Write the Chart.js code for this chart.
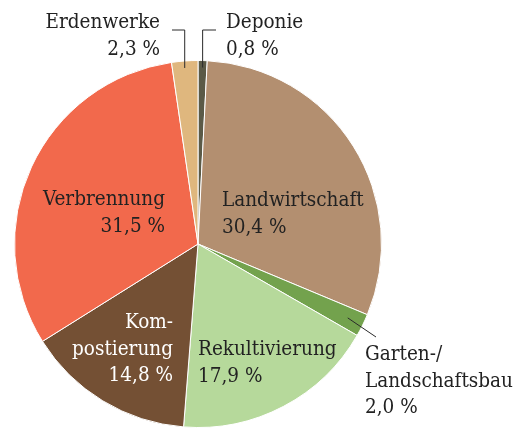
<!DOCTYPE html>
<html>
<head>
<meta charset="utf-8">
<script src="https://cdn.jsdelivr.net/npm/chart.js@4.4.0/dist/chart.umd.min.js"></script>
<style>
  html, body { margin: 0; padding: 0; background: #fff; overflow: hidden; }
  #wrap { width: 527px; height: 428px; }
</style>
</head>
<body>
<div id="wrap"><canvas id="myChart" width="527" height="428"></canvas></div>
<script>
// data, clockwise from 12 o'clock
const categories = ['Deponie', 'Landwirtschaft', 'Garten-/Landschaftsbau', 'Rekultivierung', 'Kompostierung', 'Verbrennung', 'Erdenwerke'];
const shares = [0.8, 30.4, 2.0, 17.9, 14.8, 31.5, 2.3];
const labelLines = [
    ['Deponie', '0,8 %'],
    ['Landwirtschaft', '30,4 %'],
    ['Garten-/', 'Landschaftsbau', '2,0 %'],
    ['Rekultivierung', '17,9 %'],
    ['Kom-', 'postierung', '14,8 %'],
    ['Verbrennung', '31,5 %'],
    ['Erdenwerke', '2,3 %']
];

const colors = ['#5b5a47', '#b38f70', '#73a24d', '#b6d99b', '#745034', '#f2694c', '#dfb77e'];
const textColors = ['#222', '#222', '#222', '#222', '#fff', '#222', '#222'];

// label placement relative to pie center (px), align, leader type
const labelPos = [
    { dx: 28, dy: -216, align: 'left', leader: 'top' },
    { dx: 24, dy: -38, align: 'left' },
    { dx: 167, dy: 116, align: 'left', leader: 'side' },
    { dx: 0, dy: 111, align: 'left' },
    { dx: -25, dy: 84, align: 'right' },
    { dx: -33, dy: -39, align: 'right' },
    { dx: -38, dy: -216, align: 'right', leader: 'top' }
];
const lineHeight = 26.5;
const fontCss = '20.5px "DejaVu Serif Condensed", "DejaVu Serif", serif';

const labelPlugin = {
    id: 'pieLabels',
    afterDraw(chart) {
        const ctx = chart.ctx;
        const arcs = chart.getDatasetMeta(0).data;
        ctx.save();
        ctx.font = fontCss;
        ctx.textBaseline = 'alphabetic';
        for (let i = 0; i < arcs.length; i++) {
            const arc = arcs[i];
            const cx = arc.x, cy = arc.y, r = arc.outerRadius;
            const mid = (arc.startAngle + arc.endAngle) / 2;
            const p = labelPos[i];
            const x = cx + p.dx;
            const y = cy + p.dy;

            ctx.strokeStyle = '#2a2a2a';
            ctx.lineWidth = 1;
            if (p.leader == 'top') {
                const ex = cx + Math.cos(mid) * r;
                const ey = cy + Math.sin(mid) * r + 7;
                const ly = y + 2;
                const hx = p.align == 'right' ? x + 12 : x - 10;
                ctx.beginPath();
                ctx.moveTo(ex, ey);
                ctx.lineTo(ex, ly);
                ctx.lineTo(hx, ly);
                ctx.stroke();
            } else if (p.leader == 'side') {
                ctx.beginPath();
                ctx.moveTo(cx + Math.cos(mid) * r * 0.91, cy + Math.sin(mid) * r * 0.91);
                ctx.lineTo(x + 11, y - 23);
                ctx.stroke();
            }

            ctx.fillStyle = textColors[i];
            ctx.textAlign = p.align;
            const lines = labelLines[i];
            for (let j = 0; j < lines.length; j++) {
                ctx.fillText(lines[j], x, y + j * lineHeight);
            }
        }
        ctx.restore();
    }
};

new Chart(document.getElementById('myChart'), {
    type: 'pie',
    data: {
        labels: categories,
        datasets: [{
            data: shares,
            backgroundColor: colors,
            borderColor: '#ffffff',
            borderWidth: 1
        }]
    },
    options: {
        responsive: false,
        animation: false,
        layout: { padding: { top: 60, bottom: 0, left: 14, right: 145 } },
        plugins: {
            legend: { display: false },
            tooltip: { enabled: false }
        }
    },
    plugins: [labelPlugin]
});
</script>
</body>
</html>
